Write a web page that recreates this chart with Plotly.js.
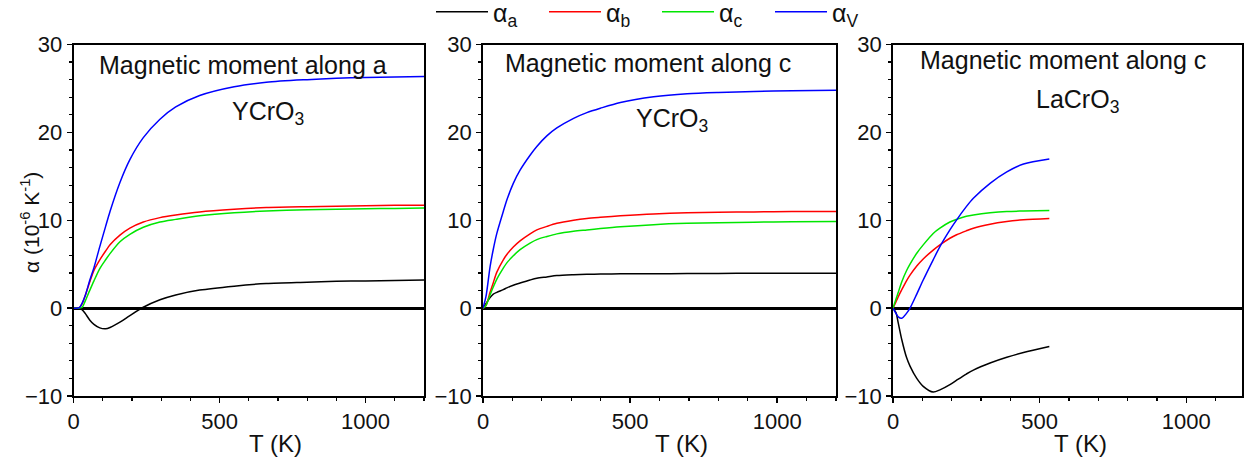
<!DOCTYPE html>
<html>
<head>
<meta charset="utf-8">
<script src="https://cdn.plot.ly/plotly-3.0.1.min.js"></script>
<style>
  html, body { margin: 0; padding: 0; background: #fff; }
  #chart { width: 1244px; height: 460px; }
</style>
</head>
<body>
<div id="chart"></div>
<script>
// Thermal expansion coefficients (10^-6 K^-1) versus temperature (K)

// YCrO3, magnetic moment along a
const T1 = [0, 20, 30, 40, 56, 70, 90, 110, 125, 159, 193, 239, 296, 350, 432, 550, 660, 800, 900, 1000, 1100, 1200];
const a1 = [0, 0, -0.2, -0.6, -1.37, -1.85, -2.25, -2.35, -2.2, -1.6, -0.85, 0.1, 0.95, 1.5, 2.05, 2.5, 2.8, 2.95, 3.05, 3.1, 3.15, 3.2];
const b1 = [0, 0.05, 0.5, 1.4, 3.0, 4.3, 5.5, 6.5, 7.2, 8.3, 9.1, 9.8, 10.3, 10.6, 10.95, 11.25, 11.45, 11.55, 11.6, 11.65, 11.7, 11.7];
const c1 = [0, 0, 0.1, 0.8, 2.05, 3.1, 4.5, 5.5, 6.2, 7.55, 8.4, 9.2, 9.8, 10.1, 10.5, 10.85, 11.05, 11.2, 11.25, 11.3, 11.35, 11.4];
const v1 = [0, 0.05, 0.6, 1.4, 3.2, 4.6, 7.0, 9.3, 11.0, 14.3, 16.9, 19.4, 21.5, 22.9, 24.2, 25.2, 25.7, 26.0, 26.15, 26.25, 26.3, 26.35];

// YCrO3, magnetic moment along c
const T2 = [0, 10, 24, 35, 47, 69, 81, 103, 126, 160, 183, 217, 251, 308, 353, 399, 467, 580, 694, 800, 921, 1050, 1200];
const a2 = [0, 0.5, 1.2, 1.6, 1.8, 2.1, 2.3, 2.6, 2.85, 3.2, 3.4, 3.55, 3.7, 3.8, 3.85, 3.88, 3.9, 3.92, 3.93, 3.95, 3.96, 3.97, 3.98];
const b2 = [0, 0.3, 1.8, 2.9, 4.1, 5.5, 6.1, 6.95, 7.65, 8.45, 8.9, 9.3, 9.65, 10.0, 10.2, 10.33, 10.5, 10.72, 10.85, 10.9, 10.95, 11.0, 11.0];
const c2 = [0, 0.3, 1.5, 2.4, 3.3, 4.55, 5.15, 5.95, 6.65, 7.4, 7.8, 8.15, 8.45, 8.75, 8.9, 9.05, 9.25, 9.5, 9.65, 9.72, 9.78, 9.82, 9.85];
const v2 = [0, 1.3, 4.7, 6.7, 8.5, 11.0, 12.3, 14.2, 15.7, 17.4, 18.4, 19.6, 20.5, 21.6, 22.25, 22.75, 23.4, 24.05, 24.4, 24.55, 24.65, 24.75, 24.8];

// LaCrO3, magnetic moment along c
const T3 = [0, 10, 18, 30, 46, 58, 81, 103, 137, 160, 194, 217, 250, 274, 331, 388, 445, 533];
const a3 = [0, -0.5, -1.7, -3.6, -5.6, -6.6, -8.0, -8.9, -9.55, -9.3, -8.7, -8.2, -7.5, -7.05, -6.25, -5.6, -5.05, -4.36];
const b3 = [0, 0.7, 1.3, 2.1, 3.1, 3.75, 4.8, 5.6, 6.6, 7.2, 7.95, 8.35, 8.8, 9.1, 9.55, 9.85, 10.05, 10.2];
const c3 = [0, 1.0, 1.8, 3.0, 4.25, 5.0, 6.25, 7.2, 8.5, 9.1, 9.8, 10.1, 10.45, 10.6, 10.85, 11.0, 11.05, 11.1];
const v3 = [0, -0.6, -1.0, -1.15, -0.6, 0, 1.6, 3.2, 5.5, 7.0, 8.9, 10.05, 11.55, 12.5, 14.2, 15.5, 16.4, 16.97];

const seriesNames = ['α<sub>a</sub>', 'α<sub>b</sub>', 'α<sub>c</sub>', 'α<sub>V</sub>'];
const seriesColors = ['#000000', '#ff0000', '#00e600', '#0000ff'];

const panels = [
  { T: T1, vals: [a1, b1, c1, v1], xa: 'x',  ya: 'y'  },
  { T: T2, vals: [a2, b2, c2, v2], xa: 'x2', ya: 'y2' },
  { T: T3, vals: [a3, b3, c3, v3], xa: 'x3', ya: 'y3' }
];

const traces = [];
panels.forEach((p, pi) => {
  p.vals.forEach((ys, si) => {
    traces.push({
      type: 'scatter', mode: 'lines',
      x: p.T, y: ys,
      xaxis: p.xa, yaxis: p.ya,
      name: seriesNames[si],
      legendgroup: 's' + si,
      showlegend: pi === 0,
      line: { color: seriesColors[si], width: 1.5, shape: 'spline', smoothing: 0.8 },
      hoverinfo: 'skip'
    });
  });
});

const W = 1244, H = 460;
const px = x => x / W;
const py = y => 1 - y / H;
const FONT = 'Liberation Sans, Arial, Helvetica, sans-serif';

function xAxis(d0, d1, yref, maxT) {
  return {
    domain: [px(d0), px(d1)], range: [0, maxT], anchor: yref,
    showline: true, mirror: true, linecolor: '#000', linewidth: 1.8,
    showgrid: false, zeroline: false,
    tick0: 0, dtick: 500, ticks: 'outside', ticklen: 5, tickwidth: 1.5, tickcolor: '#000',
    minor: { dtick: 100, ticks: 'outside', ticklen: 3, tickwidth: 1.2, tickcolor: '#000', showgrid: false },
    tickfont: { family: FONT, size: 22, color: '#111' },
    fixedrange: true
  };
}
function yAxis(xref) {
  return {
    domain: [py(396), py(44.5)], range: [-10, 30], anchor: xref,
    showline: true, mirror: true, linecolor: '#000', linewidth: 1.8,
    showgrid: false, zeroline: true, zerolinecolor: '#000', zerolinewidth: 3,
    tick0: 0, dtick: 10, ticks: 'outside', ticklen: 5, tickwidth: 1.5, tickcolor: '#000',
    minor: { dtick: 2, ticks: 'outside', ticklen: 3, tickwidth: 1.2, tickcolor: '#000', showgrid: false },
    tickfont: { family: FONT, size: 22, color: '#111' },
    fixedrange: true
  };
}

function label(text, x, y, size, extra) {
  return Object.assign({
    text: text, xref: 'paper', yref: 'paper', x: px(x), y: py(y),
    xanchor: 'center', yanchor: 'middle', showarrow: false,
    font: { family: FONT, size: size, color: '#111' }
  }, extra || {});
}

const layout = {
  width: W, height: H,
  margin: { l: 0, r: 0, t: 0, b: 0, autoexpand: false },
  paper_bgcolor: '#fff', plot_bgcolor: '#fff',
  font: { family: FONT, color: '#111' },
  xaxis: xAxis(73.5, 424, 'y', 1200),
  xaxis2: xAxis(483, 836, 'y2', 1200),
  xaxis3: xAxis(893, 1242, 'y3', 1190),
  yaxis: yAxis('x'),
  yaxis2: yAxis('x2'),
  yaxis3: yAxis('x3'),
  showlegend: true,
  legend: {
    orientation: 'h', x: px(431), xanchor: 'left', y: 1 + 11 / H, yanchor: 'top',
    font: { family: FONT, size: 25, color: '#111' },
    itemwidth: 52, entrywidth: 46, entrywidthmode: 'pixels',
    bgcolor: 'rgba(0,0,0,0)', traceorder: 'normal'
  },
  annotations: [
    label('Magnetic moment along a', 243, 65, 25),
    label('YCrO<sub>3</sub>', 268, 113, 25),
    label('Magnetic moment along c', 648, 63, 25),
    label('YCrO<sub>3</sub>', 672, 120, 25),
    label('Magnetic moment along c', 1063, 60, 25),
    label('LaCrO<sub>3</sub>', 1077, 101, 25),
    label('T (K)', 275, 443, 24),
    label('T (K)', 681, 443, 24),
    label('T (K)', 1080, 443, 24),
    label('α (10<sup>-6</sup> K<sup>-1</sup>)', 30, 222, 21, { textangle: -90 })
  ]
};

Plotly.newPlot('chart', traces, layout, { staticPlot: true, displayModeBar: false });
</script>
</body>
</html>
